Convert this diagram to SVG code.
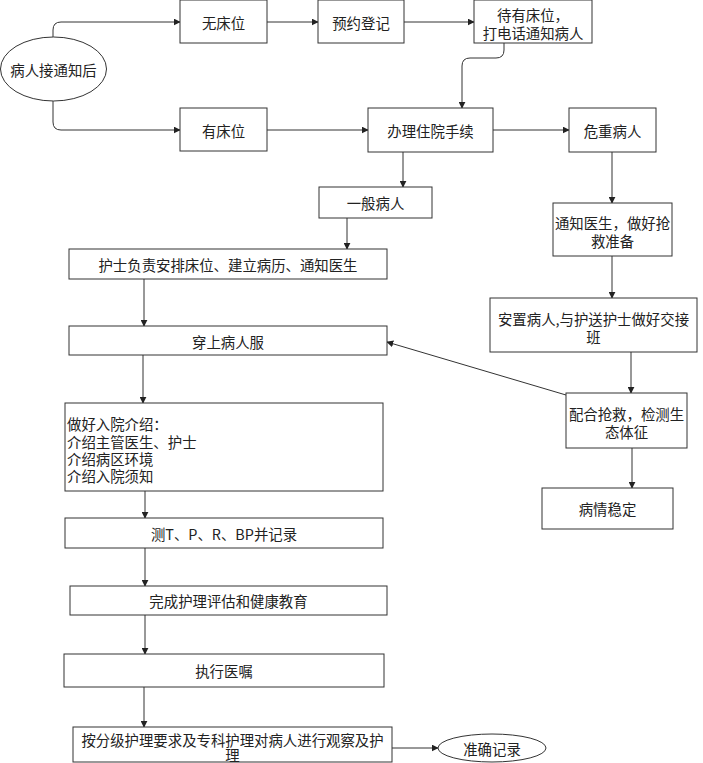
<svg xmlns="http://www.w3.org/2000/svg" width="703" height="763" viewBox="0 0 703 763">
<style>
.n rect,.n ellipse{fill:#fff;stroke:#333;stroke-width:1}
text{font-family:"Noto Sans CJK SC","Liberation Sans",sans-serif;font-size:14.4px;fill:#222;dominant-baseline:central}
.c{text-anchor:middle}
#edges path{fill:none;stroke:#333;stroke-width:1;marker-end:url(#ah)}
</style>
<defs>
<marker id="ah" viewBox="0 0 10 10" refX="9" refY="5" markerWidth="7" markerHeight="7" markerUnits="userSpaceOnUse" orient="auto">
<path d="M0,0 L10,5 L0,10 Z" fill="#222"/>
</marker>
</defs>
<rect width="703" height="763" fill="#fff"/>
<g id="edges">
<path d="M53,37 V30 Q53,22 61,22 H180"/>
<path d="M53,101 V122 Q53,130 61,130 H180"/>
<path d="M267,22 H318"/>
<path d="M404,22 H474"/>
<path d="M504,43 V50 Q504,58 496,58 H470 Q462,58 462,66 V108"/>
<path d="M267,130 H368"/>
<path d="M493,130 H569"/>
<path d="M403,152 V187"/>
<path d="M347,218 V249"/>
<path d="M144,279 V326"/>
<path d="M612,152 V203"/>
<path d="M612,256 V298"/>
<path d="M631,352 V393"/>
<path d="M566,395 L387,342"/>
<path d="M632,448 V488"/>
<path d="M143,355 V403"/>
<path d="M145,491 V518"/>
<path d="M145,548 V586"/>
<path d="M145,615 V654"/>
<path d="M144,687 V727"/>
<path d="M392,748 H438"/>
</g>
<g id="n1" class="n"><ellipse cx="53.5" cy="69" rx="53" ry="32"/><text class="c" x="53.5" y="69">病人接通知后</text></g>
<g id="n2" class="n"><rect x="180" y="0" width="87" height="43"/><text class="c" x="223.5" y="22">无床位</text></g>
<g id="n3" class="n"><rect x="318" y="0" width="86" height="43"/><text class="c" x="361" y="22">预约登记</text></g>
<g id="n4" class="n"><rect x="474" y="0" width="118" height="43"/><text class="c" x="533" y="14">待有床位，</text><text class="c" x="533" y="32">打电话通知病人</text></g>
<g id="n5" class="n"><rect x="180" y="108" width="87" height="43"/><text class="c" x="223.5" y="130">有床位</text></g>
<g id="n6" class="n"><rect x="368" y="108" width="125" height="44"/><text class="c" x="430.5" y="130">办理住院手续</text></g>
<g id="n7" class="n"><rect x="569" y="108" width="87" height="44"/><text class="c" x="612.5" y="130">危重病人</text></g>
<g id="n8" class="n"><rect x="319" y="187" width="113" height="31"/><text class="c" x="375.5" y="202.5">一般病人</text></g>
<g id="n9" class="n"><rect x="69" y="249" width="318" height="30"/><text class="c" x="228" y="264">护士负责安排床位、建立病历、通知医生</text></g>
<g id="n10" class="n"><rect x="69" y="326" width="318" height="29"/><text class="c" x="228" y="341">穿上病人服</text></g>
<g id="n11" class="n"><rect x="553" y="203" width="119" height="53"/><text class="c" x="612.5" y="222">通知医生，做好抢</text><text class="c" x="612.5" y="240">救准备</text></g>
<g id="n12" class="n"><rect x="490" y="298" width="207" height="54"/><text class="c" x="593.5" y="318">安置病人,与护送护士做好交接</text><text class="c" x="593.5" y="336">班</text></g>
<g id="n13" class="n"><rect x="566" y="393" width="121" height="55"/><text class="c" x="626.5" y="413">配合抢救，检测生</text><text class="c" x="626.5" y="431">态体征</text></g>
<g id="n14" class="n"><rect x="542" y="488" width="131" height="41"/><text class="c" x="607.5" y="508.5">病情稳定</text></g>
<g id="n15" class="n"><rect x="65" y="403" width="318" height="88"/><text x="67" y="423">做好入院介绍：</text><text x="67" y="441">介绍主管医生、护士</text><text x="67" y="458">介绍病区环境</text><text x="67" y="475">介绍入院须知</text></g>
<g id="n16" class="n"><rect x="65" y="518" width="318" height="30"/><text class="c" x="224" y="533">测T、P、R、BP并记录</text></g>
<g id="n17" class="n"><rect x="70" y="586" width="317" height="29"/><text class="c" x="228.5" y="600.5">完成护理评估和健康教育</text></g>
<g id="n18" class="n"><rect x="64" y="654" width="320" height="33"/><text class="c" x="224" y="670.5">执行医嘱</text></g>
<g id="n19" class="n"><rect x="73" y="727" width="319" height="35"/><text class="c" x="232.5" y="739">按分级护理要求及专科护理对病人进行观察及护</text><text class="c" x="232.5" y="754">理</text></g>
<g id="n20" class="n"><ellipse cx="492" cy="748" rx="54" ry="14"/><text class="c" x="492" y="748">准确记录</text></g>
</svg>
